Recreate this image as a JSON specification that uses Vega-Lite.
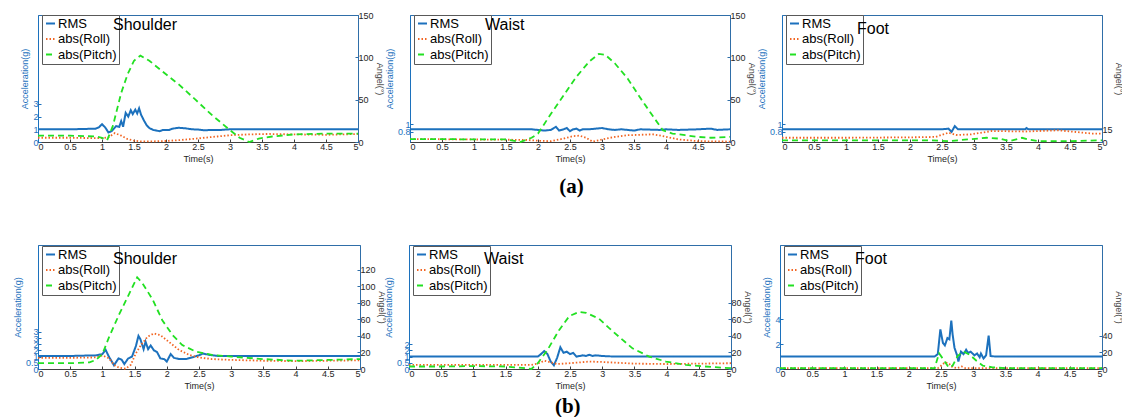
{
 "$schema": "https://vega.github.io/schema/vega-lite/v6.json",
 "padding": {"left": 12, "top": 10, "right": 0, "bottom": 0},
 "bounds": "flush",
 "spacing": 230,
 "config": {
  "font": "Liberation Sans",
  "view": {"stroke": "#2f6ea8", "strokeWidth": 1},
  "axis": {"grid": false, "labelFontSize": 9, "titleFontSize": 9, "titleFontWeight": "normal", "tickSize": -3, "labelPadding": 3, "titlePadding": 3, "labelColor": "#262626", "titleColor": "#262626", "domainColor": "#404040", "tickColor": "#404040", "labelFont": "Liberation Sans", "titleFont": "Liberation Sans", "labelOverlap": false},
  "axisLeft": {"labelColor": "#1c71bd", "titleColor": "#1c71bd", "domainColor": "#1c71bd", "tickColor": "#1c71bd"},
  "axisRight": {"labelColor": "#262626", "titleColor": "#404040", "domainColor": "#2f6ea8", "tickColor": "#2f6ea8", "titlePadding": 1},
  "legend": {"strokeColor": "#595959", "fillColor": "white", "padding": 2, "symbolType": "stroke", "symbolSize": 81, "symbolStrokeWidth": 2, "labelFontSize": 13, "labelFont": "Liberation Sans", "labelColor": "#000000", "rowPadding": 1.5, "labelOffset": 1},
  "title": {"fontSize": 16, "fontWeight": "normal", "font": "Liberation Sans", "anchor": "start", "frame": "group", "color": "#000000", "dx": 75, "dy": 26, "offset": 0}
 },
 "resolve": {"scale": {"color": "independent", "strokeDash": "independent"}, "legend": {"color": "independent", "strokeDash": "independent"}},
 "datasets": {
  "a1": [
   {"t":0,"s":"RMS","v":1.0},{"t":0.5,"s":"RMS","v":1.0},{"t":0.9,"s":"RMS","v":1.05},{"t":0.95,"s":"RMS","v":1.15},{"t":1.0,"s":"RMS","v":1.4},{"t":1.05,"s":"RMS","v":1.15},{"t":1.1,"s":"RMS","v":0.75},{"t":1.15,"s":"RMS","v":0.85},{"t":1.22,"s":"RMS","v":1.25},{"t":1.27,"s":"RMS","v":1.2},{"t":1.3,"s":"RMS","v":1.65},{"t":1.33,"s":"RMS","v":1.2},{"t":1.37,"s":"RMS","v":2.3},{"t":1.41,"s":"RMS","v":2.0},{"t":1.45,"s":"RMS","v":2.5},{"t":1.48,"s":"RMS","v":2.2},{"t":1.52,"s":"RMS","v":2.55},{"t":1.55,"s":"RMS","v":2.25},{"t":1.58,"s":"RMS","v":2.65},{"t":1.61,"s":"RMS","v":2.15},{"t":1.66,"s":"RMS","v":1.65},{"t":1.7,"s":"RMS","v":1.3},{"t":1.74,"s":"RMS","v":1.1},{"t":1.8,"s":"RMS","v":0.95},{"t":1.85,"s":"RMS","v":0.9},{"t":1.9,"s":"RMS","v":0.85},{"t":1.95,"s":"RMS","v":0.95},{"t":2.05,"s":"RMS","v":0.95},{"t":2.1,"s":"RMS","v":1.05},{"t":2.2,"s":"RMS","v":1.12},{"t":2.3,"s":"RMS","v":1.08},{"t":2.4,"s":"RMS","v":1.0},{"t":2.5,"s":"RMS","v":0.98},{"t":2.6,"s":"RMS","v":0.92},{"t":2.7,"s":"RMS","v":0.95},{"t":2.85,"s":"RMS","v":0.95},{"t":3.0,"s":"RMS","v":1.0},{"t":3.5,"s":"RMS","v":1.0},{"t":4.0,"s":"RMS","v":1.0},{"t":4.5,"s":"RMS","v":1.0},{"t":5.0,"s":"RMS","v":1.0},
   {"t":0,"s":"abs(Roll)","v":5},{"t":0.5,"s":"abs(Roll)","v":5},{"t":0.9,"s":"abs(Roll)","v":4.5},{"t":1.0,"s":"abs(Roll)","v":4.5},{"t":1.1,"s":"abs(Roll)","v":5.5},{"t":1.2,"s":"abs(Roll)","v":10.5},{"t":1.3,"s":"abs(Roll)","v":7.5},{"t":1.4,"s":"abs(Roll)","v":3.5},{"t":1.5,"s":"abs(Roll)","v":1.5},{"t":1.6,"s":"abs(Roll)","v":0.8},{"t":1.8,"s":"abs(Roll)","v":0.8},{"t":2.0,"s":"abs(Roll)","v":1.2},{"t":2.2,"s":"abs(Roll)","v":2.2},{"t":2.4,"s":"abs(Roll)","v":3.5},{"t":2.6,"s":"abs(Roll)","v":5},{"t":2.8,"s":"abs(Roll)","v":6.5},{"t":3.0,"s":"abs(Roll)","v":8},{"t":3.3,"s":"abs(Roll)","v":9},{"t":3.6,"s":"abs(Roll)","v":9.5},{"t":4.0,"s":"abs(Roll)","v":9},{"t":4.5,"s":"abs(Roll)","v":8.5},{"t":5.0,"s":"abs(Roll)","v":9.5},
   {"t":0,"s":"abs(Pitch)","v":7.5},{"t":0.5,"s":"abs(Pitch)","v":7.5},{"t":0.9,"s":"abs(Pitch)","v":6.5},{"t":1.0,"s":"abs(Pitch)","v":5},{"t":1.08,"s":"abs(Pitch)","v":2},{"t":1.17,"s":"abs(Pitch)","v":19},{"t":1.3,"s":"abs(Pitch)","v":58},{"t":1.4,"s":"abs(Pitch)","v":80},{"t":1.5,"s":"abs(Pitch)","v":96},{"t":1.6,"s":"abs(Pitch)","v":102},{"t":1.74,"s":"abs(Pitch)","v":96},{"t":1.95,"s":"abs(Pitch)","v":83},{"t":2.2,"s":"abs(Pitch)","v":68},{"t":2.46,"s":"abs(Pitch)","v":50},{"t":2.73,"s":"abs(Pitch)","v":31},{"t":3.0,"s":"abs(Pitch)","v":14},{"t":3.15,"s":"abs(Pitch)","v":5},{"t":3.3,"s":"abs(Pitch)","v":0},{"t":3.45,"s":"abs(Pitch)","v":4},{"t":3.66,"s":"abs(Pitch)","v":6.5},{"t":4.0,"s":"abs(Pitch)","v":9},{"t":4.5,"s":"abs(Pitch)","v":10},{"t":5.0,"s":"abs(Pitch)","v":10}
  ],
  "a2": [
   {"t":0,"s":"RMS","v":1.0},{"t":1.9,"s":"RMS","v":1.0},{"t":2.0,"s":"RMS","v":0.95},{"t":2.1,"s":"RMS","v":0.9},{"t":2.2,"s":"RMS","v":0.95},{"t":2.28,"s":"RMS","v":1.2},{"t":2.33,"s":"RMS","v":0.9},{"t":2.4,"s":"RMS","v":1.0},{"t":2.45,"s":"RMS","v":1.1},{"t":2.5,"s":"RMS","v":0.85},{"t":2.55,"s":"RMS","v":1.0},{"t":2.6,"s":"RMS","v":1.05},{"t":2.65,"s":"RMS","v":0.9},{"t":2.7,"s":"RMS","v":1.0},{"t":2.8,"s":"RMS","v":1.0},{"t":2.9,"s":"RMS","v":1.05},{"t":3.0,"s":"RMS","v":1.1},{"t":3.1,"s":"RMS","v":1.0},{"t":3.2,"s":"RMS","v":0.95},{"t":3.3,"s":"RMS","v":1.0},{"t":3.5,"s":"RMS","v":0.9},{"t":3.6,"s":"RMS","v":1.0},{"t":3.9,"s":"RMS","v":0.95},{"t":4.0,"s":"RMS","v":1.0},{"t":4.2,"s":"RMS","v":0.95},{"t":4.5,"s":"RMS","v":1.0},{"t":4.7,"s":"RMS","v":1.05},{"t":4.8,"s":"RMS","v":0.95},{"t":5.0,"s":"RMS","v":1.0},
   {"t":0,"s":"abs(Roll)","v":3.5},{"t":1.0,"s":"abs(Roll)","v":3},{"t":1.8,"s":"abs(Roll)","v":2.5},{"t":2.0,"s":"abs(Roll)","v":1.5},{"t":2.2,"s":"abs(Roll)","v":1},{"t":2.4,"s":"abs(Roll)","v":4},{"t":2.55,"s":"abs(Roll)","v":7},{"t":2.65,"s":"abs(Roll)","v":7.5},{"t":2.75,"s":"abs(Roll)","v":5},{"t":2.85,"s":"abs(Roll)","v":0.5},{"t":3.0,"s":"abs(Roll)","v":3},{"t":3.2,"s":"abs(Roll)","v":6},{"t":3.4,"s":"abs(Roll)","v":8},{"t":3.6,"s":"abs(Roll)","v":8.5},{"t":3.8,"s":"abs(Roll)","v":9},{"t":3.95,"s":"abs(Roll)","v":7},{"t":4.2,"s":"abs(Roll)","v":3},{"t":4.5,"s":"abs(Roll)","v":1},{"t":5.0,"s":"abs(Roll)","v":0.5},
   {"t":0,"s":"abs(Pitch)","v":3.5},{"t":0.5,"s":"abs(Pitch)","v":3.5},{"t":1.0,"s":"abs(Pitch)","v":3},{"t":1.5,"s":"abs(Pitch)","v":3},{"t":1.72,"s":"abs(Pitch)","v":0},{"t":1.9,"s":"abs(Pitch)","v":5},{"t":2.0,"s":"abs(Pitch)","v":10},{"t":2.2,"s":"abs(Pitch)","v":33},{"t":2.4,"s":"abs(Pitch)","v":55},{"t":2.6,"s":"abs(Pitch)","v":77},{"t":2.8,"s":"abs(Pitch)","v":95},{"t":2.95,"s":"abs(Pitch)","v":104},{"t":3.05,"s":"abs(Pitch)","v":103},{"t":3.2,"s":"abs(Pitch)","v":93},{"t":3.4,"s":"abs(Pitch)","v":75},{"t":3.6,"s":"abs(Pitch)","v":52},{"t":3.8,"s":"abs(Pitch)","v":30},{"t":3.95,"s":"abs(Pitch)","v":14},{"t":4.1,"s":"abs(Pitch)","v":10},{"t":4.3,"s":"abs(Pitch)","v":8},{"t":4.5,"s":"abs(Pitch)","v":6},{"t":4.7,"s":"abs(Pitch)","v":5},{"t":5.0,"s":"abs(Pitch)","v":6}
  ],
  "a3": [
   {"t":0,"s":"RMS","v":1.0},{"t":2.5,"s":"RMS","v":1.0},{"t":2.6,"s":"RMS","v":1.05},{"t":2.65,"s":"RMS","v":0.8},{"t":2.7,"s":"RMS","v":1.25},{"t":2.75,"s":"RMS","v":1.0},{"t":3.8,"s":"RMS","v":1.0},{"t":3.82,"s":"RMS","v":1.1},{"t":3.85,"s":"RMS","v":1.0},{"t":5.0,"s":"RMS","v":1.0},
   {"t":0,"s":"abs(Roll)","v":5},{"t":1.0,"s":"abs(Roll)","v":5},{"t":2.0,"s":"abs(Roll)","v":5.5},{"t":2.4,"s":"abs(Roll)","v":6},{"t":2.6,"s":"abs(Roll)","v":11},{"t":2.72,"s":"abs(Roll)","v":8.3},{"t":2.95,"s":"abs(Roll)","v":9},{"t":3.28,"s":"abs(Roll)","v":13},{"t":3.8,"s":"abs(Roll)","v":12.4},{"t":4.32,"s":"abs(Roll)","v":13.8},{"t":4.84,"s":"abs(Roll)","v":10},{"t":5.0,"s":"abs(Roll)","v":10},
   {"t":0,"s":"abs(Pitch)","v":2},{"t":2.3,"s":"abs(Pitch)","v":2},{"t":2.6,"s":"abs(Pitch)","v":1},{"t":2.9,"s":"abs(Pitch)","v":3},{"t":3.2,"s":"abs(Pitch)","v":5},{"t":3.4,"s":"abs(Pitch)","v":4},{"t":3.55,"s":"abs(Pitch)","v":1},{"t":3.75,"s":"abs(Pitch)","v":5},{"t":3.85,"s":"abs(Pitch)","v":3},{"t":4.0,"s":"abs(Pitch)","v":1},{"t":4.5,"s":"abs(Pitch)","v":1},{"t":5.0,"s":"abs(Pitch)","v":2}
  ],
  "b1": [
   {"t":0,"s":"RMS","v":1.05},{"t":0.5,"s":"RMS","v":1.05},{"t":0.9,"s":"RMS","v":1.1},{"t":1.0,"s":"RMS","v":1.2},{"t":1.05,"s":"RMS","v":1.55},{"t":1.1,"s":"RMS","v":1.0},{"t":1.18,"s":"RMS","v":0.3},{"t":1.25,"s":"RMS","v":0.85},{"t":1.3,"s":"RMS","v":0.75},{"t":1.34,"s":"RMS","v":0.4},{"t":1.4,"s":"RMS","v":0.85},{"t":1.46,"s":"RMS","v":1.0},{"t":1.52,"s":"RMS","v":1.85},{"t":1.56,"s":"RMS","v":2.67},{"t":1.59,"s":"RMS","v":2.4},{"t":1.64,"s":"RMS","v":1.6},{"t":1.67,"s":"RMS","v":2.2},{"t":1.71,"s":"RMS","v":1.6},{"t":1.75,"s":"RMS","v":1.9},{"t":1.8,"s":"RMS","v":1.5},{"t":1.85,"s":"RMS","v":1.35},{"t":1.9,"s":"RMS","v":0.85},{"t":1.96,"s":"RMS","v":0.8},{"t":2.0,"s":"RMS","v":0.6},{"t":2.06,"s":"RMS","v":1.2},{"t":2.11,"s":"RMS","v":0.9},{"t":2.19,"s":"RMS","v":0.8},{"t":2.3,"s":"RMS","v":0.8},{"t":2.4,"s":"RMS","v":0.95},{"t":2.5,"s":"RMS","v":1.1},{"t":2.56,"s":"RMS","v":1.25},{"t":2.65,"s":"RMS","v":1.15},{"t":2.8,"s":"RMS","v":1.05},{"t":3.0,"s":"RMS","v":1.05},{"t":4.0,"s":"RMS","v":1.05},{"t":5.0,"s":"RMS","v":1.05},
   {"t":0,"s":"abs(Roll)","v":13.5},{"t":0.5,"s":"abs(Roll)","v":13.5},{"t":0.9,"s":"abs(Roll)","v":14},{"t":1.0,"s":"abs(Roll)","v":16.5},{"t":1.1,"s":"abs(Roll)","v":13},{"t":1.18,"s":"abs(Roll)","v":5},{"t":1.26,"s":"abs(Roll)","v":1.5},{"t":1.36,"s":"abs(Roll)","v":0.3},{"t":1.44,"s":"abs(Roll)","v":5},{"t":1.52,"s":"abs(Roll)","v":19},{"t":1.6,"s":"abs(Roll)","v":29},{"t":1.7,"s":"abs(Roll)","v":39},{"t":1.8,"s":"abs(Roll)","v":43},{"t":1.9,"s":"abs(Roll)","v":41},{"t":2.03,"s":"abs(Roll)","v":33},{"t":2.19,"s":"abs(Roll)","v":23},{"t":2.35,"s":"abs(Roll)","v":17},{"t":2.5,"s":"abs(Roll)","v":14},{"t":2.7,"s":"abs(Roll)","v":12},{"t":3.0,"s":"abs(Roll)","v":11},{"t":3.5,"s":"abs(Roll)","v":10},{"t":4.0,"s":"abs(Roll)","v":9.5},{"t":4.5,"s":"abs(Roll)","v":10},{"t":5.0,"s":"abs(Roll)","v":10.5},
   {"t":0,"s":"abs(Pitch)","v":7},{"t":0.5,"s":"abs(Pitch)","v":7},{"t":0.8,"s":"abs(Pitch)","v":8},{"t":0.9,"s":"abs(Pitch)","v":11},{"t":1.0,"s":"abs(Pitch)","v":18},{"t":1.1,"s":"abs(Pitch)","v":38},{"t":1.26,"s":"abs(Pitch)","v":66},{"t":1.41,"s":"abs(Pitch)","v":90},{"t":1.54,"s":"abs(Pitch)","v":111},{"t":1.62,"s":"abs(Pitch)","v":104},{"t":1.78,"s":"abs(Pitch)","v":84},{"t":1.93,"s":"abs(Pitch)","v":59},{"t":2.09,"s":"abs(Pitch)","v":41},{"t":2.24,"s":"abs(Pitch)","v":29},{"t":2.45,"s":"abs(Pitch)","v":21},{"t":2.7,"s":"abs(Pitch)","v":17},{"t":3.0,"s":"abs(Pitch)","v":15},{"t":3.5,"s":"abs(Pitch)","v":12},{"t":4.0,"s":"abs(Pitch)","v":10},{"t":4.5,"s":"abs(Pitch)","v":11},{"t":5.0,"s":"abs(Pitch)","v":12}
  ],
  "b2": [
   {"t":0,"s":"RMS","v":1.0},{"t":2.0,"s":"RMS","v":1.0},{"t":2.05,"s":"RMS","v":1.2},{"t":2.1,"s":"RMS","v":1.45},{"t":2.15,"s":"RMS","v":1.2},{"t":2.2,"s":"RMS","v":0.6},{"t":2.25,"s":"RMS","v":0.3},{"t":2.3,"s":"RMS","v":0.9},{"t":2.35,"s":"RMS","v":1.75},{"t":2.4,"s":"RMS","v":1.3},{"t":2.45,"s":"RMS","v":1.4},{"t":2.5,"s":"RMS","v":1.2},{"t":2.55,"s":"RMS","v":1.3},{"t":2.6,"s":"RMS","v":1.0},{"t":2.65,"s":"RMS","v":1.05},{"t":2.7,"s":"RMS","v":1.1},{"t":2.75,"s":"RMS","v":1.05},{"t":2.8,"s":"RMS","v":1.15},{"t":2.85,"s":"RMS","v":1.05},{"t":2.9,"s":"RMS","v":1.1},{"t":3.0,"s":"RMS","v":1.05},{"t":3.2,"s":"RMS","v":1.0},{"t":5.0,"s":"RMS","v":1.0},
   {"t":0,"s":"abs(Roll)","v":5},{"t":1.9,"s":"abs(Roll)","v":5},{"t":2.0,"s":"abs(Roll)","v":6.5},{"t":2.1,"s":"abs(Roll)","v":10},{"t":2.2,"s":"abs(Roll)","v":8},{"t":2.3,"s":"abs(Roll)","v":6},{"t":2.5,"s":"abs(Roll)","v":7},{"t":2.8,"s":"abs(Roll)","v":9},{"t":3.0,"s":"abs(Roll)","v":8.5},{"t":3.5,"s":"abs(Roll)","v":6.5},{"t":4.0,"s":"abs(Roll)","v":6},{"t":4.5,"s":"abs(Roll)","v":6.5},{"t":5.0,"s":"abs(Roll)","v":7},
   {"t":0,"s":"abs(Pitch)","v":3},{"t":0.5,"s":"abs(Pitch)","v":3},{"t":1.0,"s":"abs(Pitch)","v":3.5},{"t":1.5,"s":"abs(Pitch)","v":3},{"t":1.8,"s":"abs(Pitch)","v":1},{"t":1.9,"s":"abs(Pitch)","v":0},{"t":2.0,"s":"abs(Pitch)","v":7},{"t":2.15,"s":"abs(Pitch)","v":23},{"t":2.33,"s":"abs(Pitch)","v":47},{"t":2.49,"s":"abs(Pitch)","v":64},{"t":2.64,"s":"abs(Pitch)","v":69},{"t":2.75,"s":"abs(Pitch)","v":68},{"t":2.95,"s":"abs(Pitch)","v":61},{"t":3.1,"s":"abs(Pitch)","v":50},{"t":3.26,"s":"abs(Pitch)","v":39},{"t":3.47,"s":"abs(Pitch)","v":25},{"t":3.73,"s":"abs(Pitch)","v":15},{"t":3.99,"s":"abs(Pitch)","v":9},{"t":4.3,"s":"abs(Pitch)","v":5},{"t":4.6,"s":"abs(Pitch)","v":3},{"t":5.0,"s":"abs(Pitch)","v":1}
  ],
  "b3": [
   {"t":0,"s":"RMS","v":1.0},{"t":2.4,"s":"RMS","v":1.0},{"t":2.45,"s":"RMS","v":1.2},{"t":2.49,"s":"RMS","v":3.2},{"t":2.53,"s":"RMS","v":2.1},{"t":2.56,"s":"RMS","v":1.9},{"t":2.6,"s":"RMS","v":2.5},{"t":2.63,"s":"RMS","v":2.4},{"t":2.66,"s":"RMS","v":3.9},{"t":2.68,"s":"RMS","v":2.8},{"t":2.71,"s":"RMS","v":1.7},{"t":2.75,"s":"RMS","v":1.1},{"t":2.77,"s":"RMS","v":0.6},{"t":2.81,"s":"RMS","v":1.4},{"t":2.85,"s":"RMS","v":1.2},{"t":2.89,"s":"RMS","v":1.55},{"t":2.92,"s":"RMS","v":1.3},{"t":2.96,"s":"RMS","v":1.4},{"t":3.02,"s":"RMS","v":1.1},{"t":3.06,"s":"RMS","v":1.25},{"t":3.1,"s":"RMS","v":0.95},{"t":3.12,"s":"RMS","v":1.25},{"t":3.16,"s":"RMS","v":0.85},{"t":3.2,"s":"RMS","v":1.1},{"t":3.24,"s":"RMS","v":2.7},{"t":3.27,"s":"RMS","v":1.05},{"t":3.35,"s":"RMS","v":1.0},{"t":5.0,"s":"RMS","v":1.0},
   {"t":0,"s":"abs(Roll)","v":1},{"t":2.45,"s":"abs(Roll)","v":1},{"t":2.5,"s":"abs(Roll)","v":4},{"t":2.56,"s":"abs(Roll)","v":8},{"t":2.62,"s":"abs(Roll)","v":7},{"t":2.68,"s":"abs(Roll)","v":2},{"t":2.75,"s":"abs(Roll)","v":1},{"t":2.82,"s":"abs(Roll)","v":3},{"t":2.88,"s":"abs(Roll)","v":1},{"t":5.0,"s":"abs(Roll)","v":1},
   {"t":0,"s":"abs(Pitch)","v":1},{"t":2.4,"s":"abs(Pitch)","v":1},{"t":2.47,"s":"abs(Pitch)","v":19},{"t":2.55,"s":"abs(Pitch)","v":10},{"t":2.62,"s":"abs(Pitch)","v":2},{"t":2.68,"s":"abs(Pitch)","v":4},{"t":2.76,"s":"abs(Pitch)","v":16},{"t":2.85,"s":"abs(Pitch)","v":21},{"t":2.95,"s":"abs(Pitch)","v":17},{"t":3.05,"s":"abs(Pitch)","v":10},{"t":3.15,"s":"abs(Pitch)","v":4},{"t":3.3,"s":"abs(Pitch)","v":2},{"t":3.5,"s":"abs(Pitch)","v":1},{"t":5.0,"s":"abs(Pitch)","v":1}
  ]
 },
 "vconcat": [
  {
   "bounds": "flush",
   "spacing": 52,
   "title": {"text": "(a)", "orient": "bottom", "anchor": "middle", "frame": "bounds", "font": "Liberation Serif", "fontSize": 21, "fontWeight": "bold", "dx": 0, "dy": 0, "offset": 12},
   "resolve": {"scale": {"color": "independent", "strokeDash": "independent"}, "legend": {"color": "independent", "strokeDash": "independent"}},
   "hconcat": [
    {
     "width": 320, "height": 127, "title": {"text": "Shoulder"}, "data": {"name": "a1"},
     "encoding": {
      "x": {"field": "t", "type": "quantitative", "scale": {"domain": [0, 5], "nice": false}, "axis": {"values": [0,0.5,1,1.5,2,2.5,3,3.5,4,4.5,5], "format": "~g", "title": "Time(s)"}},
      "color": {"field": "s", "type": "nominal", "scale": {"domain": ["RMS","abs(Roll)","abs(Pitch)"], "range": ["#1c71bd","#f26522","#22e022"]}, "legend": {"title": null, "orient": "none", "legendX": 4, "legendY": 0}},
      "strokeDash": {"field": "s", "type": "nominal", "scale": {"domain": ["RMS","abs(Roll)","abs(Pitch)"], "range": [[1,0],[1.5,2],[6,4]]}, "legend": {"title": null, "orient": "none", "legendX": 4, "legendY": 0}}
     },
     "layer": [
      {"transform": [{"filter": "datum.s === 'RMS'"}], "mark": {"type": "line", "strokeWidth": 2}, "encoding": {"y": {"field": "v", "type": "quantitative", "scale": {"domain": [0, 10], "nice": false}, "axis": {"orient": "left", "values": [0,1,2,3], "format": "~g", "title": "Acceleration(g)"}}}},
      {"transform": [{"filter": "datum.s !== 'RMS'"}], "mark": {"type": "line", "strokeWidth": 1.8}, "encoding": {"y": {"field": "v", "type": "quantitative", "scale": {"domain": [0, 150], "nice": false}, "axis": {"orient": "right", "values": [0,50,100,150], "title": "Angel(°)"}}}}
     ],
     "resolve": {"scale": {"y": "independent"}, "axis": {"y": "independent"}}
    },
    {
     "width": 320, "height": 127, "title": {"text": "Waist"}, "data": {"name": "a2"},
     "encoding": {
      "x": {"field": "t", "type": "quantitative", "scale": {"domain": [0, 5], "nice": false}, "axis": {"values": [0,0.5,1,1.5,2,2.5,3,3.5,4,4.5,5], "format": "~g", "title": "Time(s)"}},
      "color": {"field": "s", "type": "nominal", "scale": {"domain": ["RMS","abs(Roll)","abs(Pitch)"], "range": ["#1c71bd","#f26522","#22e022"]}, "legend": {"title": null, "orient": "none", "legendX": 4, "legendY": 0}},
      "strokeDash": {"field": "s", "type": "nominal", "scale": {"domain": ["RMS","abs(Roll)","abs(Pitch)"], "range": [[1,0],[1.5,2],[6,4]]}, "legend": {"title": null, "orient": "none", "legendX": 4, "legendY": 0}}
     },
     "layer": [
      {"transform": [{"filter": "datum.s === 'RMS'"}], "mark": {"type": "line", "strokeWidth": 2}, "encoding": {"y": {"field": "v", "type": "quantitative", "scale": {"domain": [0, 10], "nice": false}, "axis": {"orient": "left", "values": [0.8,1.4], "format": "~g", "title": "Acceleration(g)"}}}},
      {"transform": [{"filter": "datum.s !== 'RMS'"}], "mark": {"type": "line", "strokeWidth": 1.8}, "encoding": {"y": {"field": "v", "type": "quantitative", "scale": {"domain": [0, 150], "nice": false}, "axis": {"orient": "right", "values": [0,50,100,150], "title": "Angel(°)"}}}}
     ],
     "resolve": {"scale": {"y": "independent"}, "axis": {"y": "independent"}}
    },
    {
     "width": 320, "height": 127, "title": {"text": "Foot"}, "data": {"name": "a3"},
     "encoding": {
      "x": {"field": "t", "type": "quantitative", "scale": {"domain": [0, 5], "nice": false}, "axis": {"values": [0,0.5,1,1.5,2,2.5,3,3.5,4,4.5,5], "format": "~g", "title": "Time(s)"}},
      "color": {"field": "s", "type": "nominal", "scale": {"domain": ["RMS","abs(Roll)","abs(Pitch)"], "range": ["#1c71bd","#f26522","#22e022"]}, "legend": {"title": null, "orient": "none", "legendX": 4, "legendY": 0}},
      "strokeDash": {"field": "s", "type": "nominal", "scale": {"domain": ["RMS","abs(Roll)","abs(Pitch)"], "range": [[1,0],[1.5,2],[6,4]]}, "legend": {"title": null, "orient": "none", "legendX": 4, "legendY": 0}}
     },
     "layer": [
      {"transform": [{"filter": "datum.s === 'RMS'"}], "mark": {"type": "line", "strokeWidth": 2}, "encoding": {"y": {"field": "v", "type": "quantitative", "scale": {"domain": [0, 10], "nice": false}, "axis": {"orient": "left", "values": [0.8,1.4], "format": "~g", "title": "Acceleration(g)"}}}},
      {"transform": [{"filter": "datum.s !== 'RMS'"}], "mark": {"type": "line", "strokeWidth": 1.8}, "encoding": {"y": {"field": "v", "type": "quantitative", "scale": {"domain": [0, 150], "nice": false}, "axis": {"orient": "right", "values": [0,15], "title": "Angel(°)"}}}}
     ],
     "resolve": {"scale": {"y": "independent"}, "axis": {"y": "independent"}}
    }
   ]
  },
  {
   "bounds": "flush",
   "spacing": 49,
   "title": {"text": "(b)", "orient": "bottom", "anchor": "middle", "frame": "bounds", "font": "Liberation Serif", "fontSize": 21, "fontWeight": "bold", "dx": 0, "dy": 0, "offset": 5},
   "resolve": {"scale": {"color": "independent", "strokeDash": "independent"}, "legend": {"color": "independent", "strokeDash": "independent"}},
   "hconcat": [
    {
     "width": 322, "height": 124, "title": {"text": "Shoulder"}, "data": {"name": "b1"},
     "encoding": {
      "x": {"field": "t", "type": "quantitative", "scale": {"domain": [0, 5], "nice": false}, "axis": {"values": [0,0.5,1,1.5,2,2.5,3,3.5,4,4.5,5], "format": "~g", "title": "Time(s)"}},
      "color": {"field": "s", "type": "nominal", "scale": {"domain": ["RMS","abs(Roll)","abs(Pitch)"], "range": ["#1c71bd","#f26522","#22e022"]}, "legend": {"title": null, "orient": "none", "legendX": 4, "legendY": 1}},
      "strokeDash": {"field": "s", "type": "nominal", "scale": {"domain": ["RMS","abs(Roll)","abs(Pitch)"], "range": [[1,0],[1.5,2],[6,4]]}, "legend": {"title": null, "orient": "none", "legendX": 4, "legendY": 1}}
     },
     "layer": [
      {"transform": [{"filter": "datum.s === 'RMS'"}], "mark": {"type": "line", "strokeWidth": 2}, "encoding": {"y": {"field": "v", "type": "quantitative", "scale": {"domain": [0, 10], "nice": false}, "axis": {"orient": "left", "values": [0,0.5,1,1.5,2,2.5,3], "format": "~g", "title": "Acceleration(g)"}}}},
      {"transform": [{"filter": "datum.s !== 'RMS'"}], "mark": {"type": "line", "strokeWidth": 1.8}, "encoding": {"y": {"field": "v", "type": "quantitative", "scale": {"domain": [0, 150], "nice": false}, "axis": {"orient": "right", "values": [0,20,40,60,80,100,120], "title": "Angel(°)"}}}}
     ],
     "resolve": {"scale": {"y": "independent"}, "axis": {"y": "independent"}}
    },
    {
     "width": 322, "height": 124, "title": {"text": "Waist"}, "data": {"name": "b2"},
     "encoding": {
      "x": {"field": "t", "type": "quantitative", "scale": {"domain": [0, 5], "nice": false}, "axis": {"values": [0,0.5,1,1.5,2,2.5,3,3.5,4,4.5,5], "format": "~g", "title": "Time(s)"}},
      "color": {"field": "s", "type": "nominal", "scale": {"domain": ["RMS","abs(Roll)","abs(Pitch)"], "range": ["#1c71bd","#f26522","#22e022"]}, "legend": {"title": null, "orient": "none", "legendX": 4, "legendY": 1}},
      "strokeDash": {"field": "s", "type": "nominal", "scale": {"domain": ["RMS","abs(Roll)","abs(Pitch)"], "range": [[1,0],[1.5,2],[6,4]]}, "legend": {"title": null, "orient": "none", "legendX": 4, "legendY": 1}}
     },
     "layer": [
      {"transform": [{"filter": "datum.s === 'RMS'"}], "mark": {"type": "line", "strokeWidth": 2}, "encoding": {"y": {"field": "v", "type": "quantitative", "scale": {"domain": [0, 10], "nice": false}, "axis": {"orient": "left", "values": [0,0.5,1,1.5,2], "format": "~g", "title": "Acceleration(g)"}}}},
      {"transform": [{"filter": "datum.s !== 'RMS'"}], "mark": {"type": "line", "strokeWidth": 1.8}, "encoding": {"y": {"field": "v", "type": "quantitative", "scale": {"domain": [0, 150], "nice": false}, "axis": {"orient": "right", "values": [0,20,40,60,80], "title": "Angel(°)"}}}}
     ],
     "resolve": {"scale": {"y": "independent"}, "axis": {"y": "independent"}}
    },
    {
     "width": 322, "height": 124, "title": {"text": "Foot"}, "data": {"name": "b3"},
     "encoding": {
      "x": {"field": "t", "type": "quantitative", "scale": {"domain": [0, 5], "nice": false}, "axis": {"values": [0,0.5,1,1.5,2,2.5,3,3.5,4,4.5,5], "format": "~g", "title": "Time(s)"}},
      "color": {"field": "s", "type": "nominal", "scale": {"domain": ["RMS","abs(Roll)","abs(Pitch)"], "range": ["#1c71bd","#f26522","#22e022"]}, "legend": {"title": null, "orient": "none", "legendX": 4, "legendY": 1}},
      "strokeDash": {"field": "s", "type": "nominal", "scale": {"domain": ["RMS","abs(Roll)","abs(Pitch)"], "range": [[1,0],[1.5,2],[6,4]]}, "legend": {"title": null, "orient": "none", "legendX": 4, "legendY": 1}}
     },
     "layer": [
      {"transform": [{"filter": "datum.s === 'RMS'"}], "mark": {"type": "line", "strokeWidth": 2}, "encoding": {"y": {"field": "v", "type": "quantitative", "scale": {"domain": [0, 10], "nice": false}, "axis": {"orient": "left", "values": [0,2,4], "format": "~g", "title": "Acceleration(g)"}}}},
      {"transform": [{"filter": "datum.s !== 'RMS'"}], "mark": {"type": "line", "strokeWidth": 1.8}, "encoding": {"y": {"field": "v", "type": "quantitative", "scale": {"domain": [0, 150], "nice": false}, "axis": {"orient": "right", "values": [0,20,40], "title": "Angel(°)"}}}}
     ],
     "resolve": {"scale": {"y": "independent"}, "axis": {"y": "independent"}}
    }
   ]
  }
 ]
}
